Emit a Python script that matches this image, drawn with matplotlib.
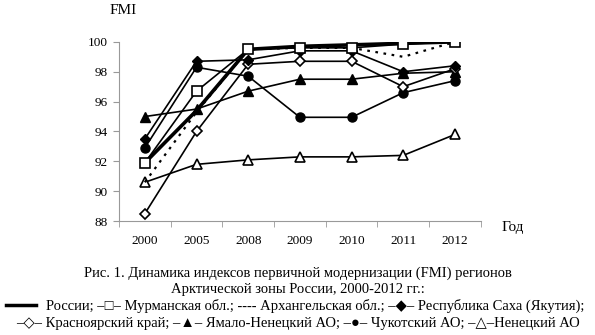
import numpy as np
import matplotlib
matplotlib.use("Agg")
import matplotlib.pyplot as plt
from matplotlib.lines import Line2D

plt.rcParams["font.family"] = ["Liberation Serif", "DejaVu Sans"]

years = ["2000", "2005", "2008", "2009", "2010", "2011", "2012"]

russia      = [91.9, 95.4, 99.5, 99.7, 99.8, 99.9, 100.0]
murmansk    = [91.9, 96.7, 99.5, 99.6, 99.6, 99.85, 100.0]
arkhangelsk = [90.6, 95.3, 99.5, 99.6, 99.6, 99.0, 100.0]
sakha       = [93.5, 98.7, 98.8, 99.4, 99.4, 98.0, 98.4]
krasnoyarsk = [88.5, 94.0, 98.5, 98.7, 98.7, 97.0, 98.2]
yamal       = [95.0, 95.5, 96.7, 97.5, 97.5, 97.9, 98.0]
chukotka    = [92.9, 98.3, 97.7, 94.95, 94.95, 96.6, 97.4]
nenets      = [90.6, 91.8, 92.1, 92.3, 92.3, 92.4, 93.8]

caption_1 = "Рис. 1. Динамика индексов первичной модернизации (FMI) регионов"
caption_2 = "Арктической зоны России, 2000-2012 гг.:"
legend_1 = "России; –□– Мурманская обл.; ---- Архангельская обл.; –◆– Республика Саха (Якутия);"
legend_2 = "–◇– Красноярский край; –▲– Ямало-Ненецкий АО; –●– Чукотский АО; –△–Ненецкий АО"

fig = plt.figure(figsize=(5.95, 3.35), dpi=100)
ax = fig.add_axes([0.2, 0.34, 0.608, 0.535])
x = np.arange(len(years))

kw = dict(color="black", lw=1.2, ms=6.5)
ax.plot(x, nenets, marker="^", mfc="white", mec="black", mew=1.2, **kw)
ax.plot(x, chukotka, marker="o", mfc="black", **kw)
ax.plot(x, yamal, marker="^", mfc="black", **kw)
ax.plot(x, krasnoyarsk, marker="D", mfc="white", mec="black", mew=1.2,
        color="black", lw=1.2, ms=5.5)
ax.plot(x, sakha, marker="D", mfc="black", color="black", lw=1.2, ms=5.5)
ax.plot(x, arkhangelsk, color="black", lw=1.6, ls=(0, (1.2, 2.5)))
ax.plot(x, russia, color="black", lw=2.6)
ax.plot(x, murmansk, marker="s", mfc="white", mec="black", mew=1.2, **kw)

ax.set_xlim(-0.5, len(years) - 0.5)
ax.set_ylim(88, 100)
ax.set_yticks(np.arange(88, 101, 2))
ax.set_xticks(x)
ax.set_xticklabels(years)
ax.set_xticks(np.arange(-0.5, len(years), 1), minor=True)
ax.tick_params(axis="x", which="major", length=0, pad=10, labelsize=9.5)
ax.tick_params(axis="x", which="minor", length=4, color="#999999")
ax.tick_params(axis="y", length=4, color="#999999", labelsize=9.5, pad=4)
for s in ["top", "right"]:
    ax.spines[s].set_visible(False)
for s in ["left", "bottom"]:
    ax.spines[s].set_color("#999999")

fig.text(110 / 595, 1 - 10 / 335, "FMI", fontsize=11, ha="left", va="center")
fig.text(513 / 595, 1 - 227 / 335, "Год", fontsize=11, ha="center", va="center")

fig.text(0.5, 1 - 273 / 335, caption_1, fontsize=10.5, ha="center", va="center")
fig.text(0.5, 1 - 289 / 335, caption_2, fontsize=10.5, ha="center", va="center")
fig.text(46 / 595, 1 - 306 / 335, legend_1, fontsize=10.5, ha="left", va="center")
fig.text(0.5, 1 - 323 / 335, legend_2, fontsize=10.5, ha="center", va="center")
fig.add_artist(Line2D([6 / 595, 36 / 595], [1 - 305 / 335] * 2,
                      color="black", lw=2.5, transform=fig.transFigure))

fig.savefig("out.png", dpi=100)
